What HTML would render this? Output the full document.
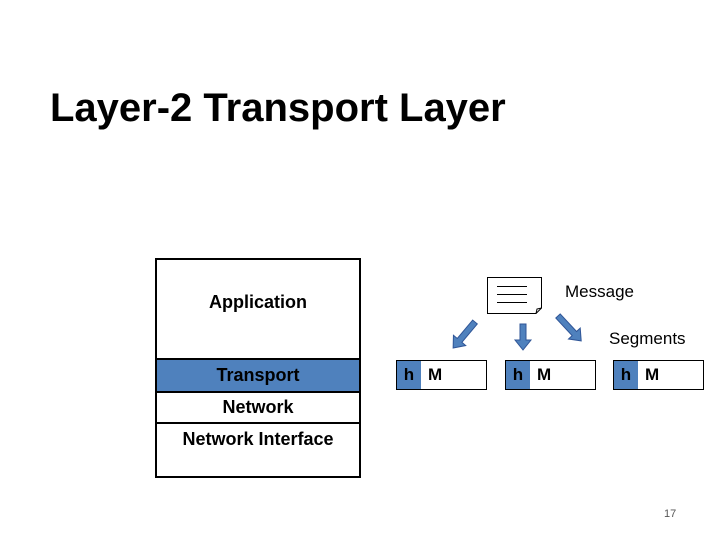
<!DOCTYPE html>
<html><head><style>
body{margin:0;width:720px;height:540px;background:#fff;position:relative;font-family:"Liberation Sans",sans-serif;overflow:hidden}
.a{position:absolute}
.t{position:absolute;font-size:18px;color:#000}
.b{font-weight:bold}
.seg{position:absolute;top:360px;width:89px;height:28px;border:1px solid #000;background:#fff}
.seg .h{position:absolute;left:0;top:0;width:24px;height:28px;background:#4f81bd;font-weight:bold;font-size:17px;text-align:center;line-height:28px}
.seg .m{position:absolute;left:31px;top:0;font-weight:bold;font-size:17px;line-height:28px}
</style></head><body>
<div class="t" style="left:50px;top:86px;font-size:40px;font-weight:bold">Layer-2 Transport Layer</div>
<div class="a" style="left:155px;top:258px;width:202px;height:216px;border:2px solid #000"></div>
<div class="a" style="left:157px;top:358px;width:202px;height:31px;background:#4f81bd;border-top:2px solid #000;border-bottom:2px solid #000"></div>
<div class="a" style="left:157px;top:422px;width:202px;height:2px;background:#000"></div>
<div class="t b" style="left:157px;width:202px;text-align:center;top:292px">Application</div>
<div class="t b" style="left:157px;width:202px;text-align:center;top:365px">Transport</div>
<div class="t b" style="left:157px;width:202px;text-align:center;top:397px">Network</div>
<div class="t b" style="left:157px;width:202px;text-align:center;top:429px">Network Interface</div>
<div class="seg" style="left:396px"><div class="h">h</div><div class="m">M</div></div>
<div class="seg" style="left:505px"><div class="h">h</div><div class="m">M</div></div>
<div class="seg" style="left:613px"><div class="h">h</div><div class="m">M</div></div>
<div class="t" style="left:565px;top:282px;font-size:17px">Message</div>
<div class="t" style="left:609px;top:329px;font-size:17px">Segments</div>
<div class="t" style="left:664px;top:508px;font-size:11px;color:#555">17</div>
<svg class="a" style="left:0;top:0" width="720" height="540">
<path d="M487.5 277.5 H541.5 V308 L536 313.5 H487.5 Z" fill="#fff" stroke="#000"/>
<path d="M536 313.5 L537 309 L541.5 308" fill="none" stroke="#000"/>
<g stroke="#000"><line x1="497" y1="286.5" x2="527" y2="286.5"/><line x1="497" y1="294.5" x2="527" y2="294.5"/><line x1="497" y1="302.5" x2="527" y2="302.5"/></g>
<g fill="#4f81bd" stroke="#2f5597" stroke-width="1">
<polygon points="520,324 526,324 526,340 531,340 523,350 515,340 520,340"/>
<polygon points="-3,0 3,0 3,24 8,24 0,34 -8,24 -3,24" transform="translate(475,322) rotate(40)"/>
<polygon points="-3,0 3,0 3,24 8,24 0,34 -8,24 -3,24" transform="translate(558,316) rotate(-43)"/>
</g>
</svg>
</body></html>
